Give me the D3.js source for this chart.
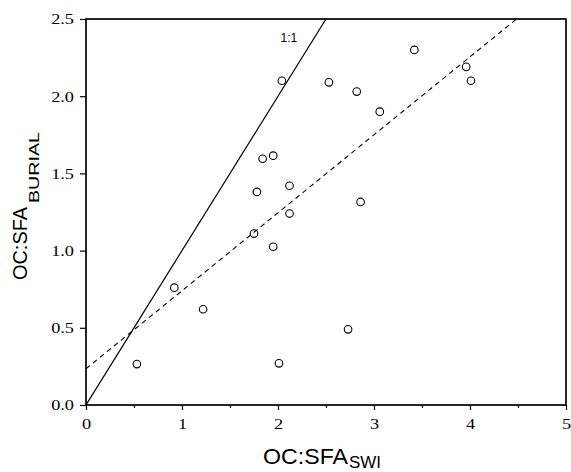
<!DOCTYPE html>
<html>
<head>
<meta charset="utf-8">
<script src="https://cdn.jsdelivr.net/npm/d3@7"></script>
<style>
  html, body { margin: 0; padding: 0; background: #fff; }
  svg { display: block; }
  .tick text { font-family: "Liberation Serif", "Times New Roman", Times, serif; }
</style>
</head>
<body>
<svg id="chart" width="571" height="472"></svg>
<script>
// OC:SFA ratios: surface water interface (x) vs. burial (y)
const swi = [0.53, 0.92, 1.22, 1.75, 1.78, 1.84, 1.95, 1.95, 2.01, 2.04,
             2.12, 2.12, 2.53, 2.73, 2.82, 2.86, 3.06, 3.42, 3.96, 4.01];
const burial = [0.265, 0.76, 0.62, 1.11, 1.38, 1.595, 1.615, 1.025, 0.27, 2.10,
                1.42, 1.24, 2.09, 0.49, 2.03, 1.315, 1.90, 2.30, 2.19, 2.10];

// Least-squares fit line drawn dashed
const fitIntercept = 0.235;
const fitSlope = 0.505;

const xTicks = [0, 1, 2, 3, 4, 5];
const xMinorTicks = [0.5, 1.5, 2.5, 3.5, 4.5];
const yTicks = [0, 0.5, 1.0, 1.5, 2.0, 2.5];

const sans = "'Liberation Sans', Arial, sans-serif";

const svg = d3.select("#chart");
const plotLeft = 86, plotRight = 566, plotTop = 19, plotBottom = 405;

const x = d3.scaleLinear().domain([0, 5]).range([plotLeft, plotRight]);
const y = d3.scaleLinear().domain([0, 2.5]).range([plotBottom, plotTop]);

svg.append("defs").append("clipPath").attr("id", "plotClip")
  .append("rect").attr("x", plotLeft).attr("y", plotTop)
  .attr("width", plotRight - plotLeft).attr("height", plotBottom - plotTop);

const plot = svg.append("g").attr("clip-path", "url(#plotClip)");

// 1:1 reference line
plot.append("line")
  .attr("x1", x(0)).attr("y1", y(0))
  .attr("x2", x(2.5)).attr("y2", y(2.5))
  .attr("stroke", "#000").attr("stroke-width", 1.2);

// regression line
const fitEndX = (2.5 - fitIntercept) / fitSlope;
plot.append("line")
  .attr("x1", x(0)).attr("y1", y(fitIntercept))
  .attr("x2", x(fitEndX)).attr("y2", y(fitIntercept + fitSlope * fitEndX))
  .attr("stroke", "#000").attr("stroke-width", 1.1)
  .attr("stroke-dasharray", "5,4");

// data points
plot.selectAll("circle.pt")
  .data(swi.map((v, i) => [v, burial[i]]))
  .enter().append("circle")
  .attr("class", "pt")
  .attr("cx", d => x(d[0]))
  .attr("cy", d => y(d[1]))
  .attr("r", 3.8)
  .attr("fill", "none")
  .attr("stroke", "#000")
  .attr("stroke-width", 1.1);

// axes
const xAxis = svg.append("g").attr("transform", `translate(0,${plotBottom})`)
  .call(d3.axisBottom(x).tickValues(xTicks).tickFormat(d3.format("d"))
    .tickSize(5).tickSizeOuter(0));
const xMinor = svg.append("g").attr("transform", `translate(0,${plotBottom})`)
  .call(d3.axisBottom(x).tickValues(xMinorTicks).tickFormat("")
    .tickSize(3).tickSizeOuter(0));
const yAxis = svg.append("g").attr("transform", `translate(${plotLeft},0)`)
  .call(d3.axisLeft(y).tickValues(yTicks).tickFormat(d3.format(".1f"))
    .tickSize(6).tickSizeOuter(0));

[xAxis, xMinor, yAxis].forEach(g => {
  g.attr("font-family", null).attr("font-size", null);
  g.select(".domain").remove();
  g.selectAll(".tick line").attr("stroke", "#000").attr("stroke-width", 1.2);
  g.selectAll(".tick text").attr("fill", "#000").style("font-size", "15.5px");
});
// tick labels are set slightly wide
xAxis.selectAll(".tick text")
  .attr("y", 0).attr("dy", 0)
  .attr("transform", "translate(0,24) scale(1.18,1)");
yAxis.selectAll(".tick text")
  .attr("x", 0)
  .attr("transform", "translate(-12,0) scale(1.18,1)");

// plot frame
svg.append("rect")
  .attr("x", plotLeft).attr("y", plotTop)
  .attr("width", plotRight - plotLeft).attr("height", plotBottom - plotTop)
  .attr("fill", "none").attr("stroke", "#000").attr("stroke-width", 1.7);

// 1:1 label
svg.append("text")
  .attr("x", 280.5).attr("y", 42)
  .attr("fill", "#000")
  .style("font-family", sans)
  .style("font-size", "12px")
  .text("1:1");

// x axis title
svg.append("text")
  .attr("x", 263).attr("y", 464)
  .attr("textLength", 85).attr("lengthAdjust", "spacingAndGlyphs")
  .style("font-family", sans).style("font-size", "22px")
  .text("OC:SFA");
svg.append("text")
  .attr("x", 349).attr("y", 468)
  .attr("textLength", 32).attr("lengthAdjust", "spacingAndGlyphs")
  .style("font-family", sans).style("font-size", "16px")
  .text("SWI");

// y axis title (rotated)
const yt = svg.append("g").attr("transform", "rotate(-90)");
yt.append("text")
  .attr("x", -280).attr("y", 26.5)
  .attr("textLength", 73).attr("lengthAdjust", "spacingAndGlyphs")
  .style("font-family", sans).style("font-size", "20px")
  .text("OC:SFA");
yt.append("text")
  .attr("x", -203).attr("y", 39)
  .attr("textLength", 71).attr("lengthAdjust", "spacingAndGlyphs")
  .style("font-family", sans).style("font-size", "15.5px")
  .text("BURIAL");
</script>
</body>
</html>
